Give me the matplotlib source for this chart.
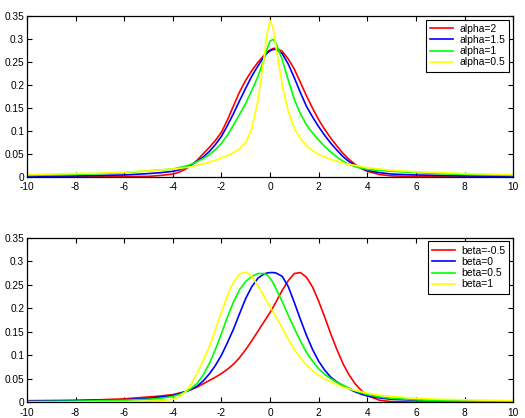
import matplotlib
matplotlib.use("Agg")
import matplotlib.pyplot as plt
from matplotlib.ticker import FormatStrFormatter

plt.rcParams['font.family'] = ['Liberation Sans', 'DejaVu Sans']
plt.rcParams['axes.unicode_minus'] = False

# values
x = [-10, -9, -8, -7, -6, -5, -4.5,
     -4, -3.75, -3.5, -3.25, -3, -2.75, -2.5, -2.25, -2, -1.75, -1.5, -1.25, -1, -0.75, -0.5, -0.25,
     -0.125, 0, 0.125,
     0.25, 0.5, 0.75, 1, 1.25, 1.5, 1.75, 2, 2.25, 2.5, 2.75, 3, 3.25, 3.5, 3.75, 4,
     4.5, 5, 6, 7, 8, 9, 10]

# top panel: varying alpha
alpha_2 = [0, 0, 0, 0, 0.0005, 0.001, 0.003,
           0.006, 0.01, 0.016, 0.025, 0.036, 0.05, 0.064, 0.079, 0.097, 0.124, 0.155, 0.185, 0.21, 0.231, 0.249, 0.264,
           0.271, 0.276, 0.279,
           0.28, 0.273, 0.256, 0.234, 0.205, 0.176, 0.149, 0.124, 0.103, 0.084, 0.067, 0.051, 0.038, 0.027, 0.018, 0.012,
           0.005, 0.002, 0.0005, 0, 0, 0, 0]
alpha_15 = [0.001, 0.0015, 0.002, 0.003, 0.004, 0.007, 0.009,
            0.012, 0.015, 0.02, 0.026, 0.034, 0.043, 0.055, 0.07, 0.088, 0.112, 0.138, 0.166, 0.193, 0.219, 0.241, 0.261,
            0.269, 0.274, 0.277,
            0.277, 0.268, 0.245, 0.215, 0.183, 0.153, 0.13, 0.109, 0.09, 0.073, 0.058, 0.044, 0.033, 0.025, 0.019, 0.014,
            0.009, 0.006, 0.004, 0.003, 0.002, 0.0015, 0.001]
alpha_1 = [0.003, 0.004, 0.005, 0.007, 0.009, 0.013, 0.015,
           0.017, 0.02, 0.023, 0.027, 0.033, 0.04, 0.048, 0.059, 0.073, 0.091, 0.113, 0.136, 0.16, 0.188, 0.218, 0.255,
           0.278, 0.295, 0.299,
           0.29, 0.255, 0.21, 0.168, 0.137, 0.113, 0.095, 0.08, 0.066, 0.054, 0.043, 0.034, 0.027, 0.022, 0.019, 0.016,
           0.014, 0.012, 0.009, 0.007, 0.005, 0.004, 0.003]
alpha_05 = [0.005, 0.006, 0.007, 0.008, 0.01, 0.013, 0.015,
            0.017, 0.018, 0.02, 0.022, 0.025, 0.028, 0.032, 0.036, 0.041, 0.046, 0.052, 0.061, 0.075, 0.105, 0.165, 0.258,
            0.31, 0.34, 0.325,
            0.28, 0.2, 0.142, 0.105, 0.083, 0.068, 0.057, 0.049, 0.043, 0.038, 0.034, 0.03, 0.027, 0.025, 0.022, 0.02,
            0.017, 0.014, 0.011, 0.009, 0.007, 0.006, 0.005]
alpha_labels = ['alpha=2', 'alpha=1.5', 'alpha=1', 'alpha=0.5']

# bottom panel: varying beta
beta_m05 = [0.003, 0.0035, 0.004, 0.005, 0.007, 0.011, 0.013,
            0.016, 0.019, 0.022, 0.027, 0.032, 0.039, 0.046, 0.053, 0.061, 0.07, 0.081, 0.095, 0.112, 0.131, 0.151, 0.171,
            0.181, 0.191, 0.202,
            0.214, 0.238, 0.259, 0.274, 0.276, 0.266, 0.245, 0.215, 0.181, 0.145, 0.112, 0.082, 0.058, 0.039, 0.025, 0.014,
            0.004, 0.001, 0, 0, 0, 0, 0]
beta_0 = [0.002, 0.0025, 0.003, 0.004, 0.005, 0.008, 0.011,
          0.014, 0.018, 0.022, 0.027, 0.034, 0.045, 0.06, 0.078, 0.1, 0.127, 0.156, 0.189, 0.221, 0.246, 0.264, 0.273,
          0.275, 0.276, 0.276,
          0.275, 0.268, 0.246, 0.212, 0.176, 0.142, 0.112, 0.087, 0.068, 0.053, 0.043, 0.035, 0.028, 0.022, 0.017, 0.013,
          0.009, 0.006, 0.004, 0.003, 0.002, 0.0015, 0.001]
beta_05 = [0.001, 0.0015, 0.002, 0.003, 0.004, 0.006, 0.008,
           0.012, 0.016, 0.021, 0.029, 0.04, 0.058, 0.082, 0.112, 0.146, 0.182, 0.214, 0.24, 0.257, 0.268, 0.274, 0.274,
           0.271, 0.264, 0.254,
           0.241, 0.214, 0.185, 0.157, 0.13, 0.106, 0.087, 0.071, 0.059, 0.05, 0.042, 0.036, 0.03, 0.024, 0.02, 0.016,
           0.011, 0.008, 0.005, 0.003, 0.002, 0.0015, 0.001]
beta_1 = [0, 0, 0.0005, 0.0007, 0.001, 0.002, 0.003,
          0.006, 0.011, 0.021, 0.038, 0.061, 0.088, 0.118, 0.155, 0.192, 0.228, 0.256, 0.273, 0.277, 0.268, 0.248, 0.226,
          0.214, 0.203, 0.192,
          0.181, 0.158, 0.134, 0.112, 0.094, 0.079, 0.067, 0.057, 0.049, 0.043, 0.037, 0.032, 0.028, 0.025, 0.022, 0.019,
          0.015, 0.012, 0.008, 0.006, 0.005, 0.004, 0.003]
beta_labels = ['beta=-0.5', 'beta=0', 'beta=0.5', 'beta=1']

colors = ['#ff0000', '#0000ff', '#00ff00', '#ffff00']
xticks = [-10, -8, -6, -4, -2, 0, 2, 4, 6, 8, 10]
yticks = [0, 0.05, 0.1, 0.15, 0.2, 0.25, 0.3, 0.35]

fig = plt.figure(figsize=(5.25, 4.18), dpi=100)
ax1 = fig.add_axes([0.0514, 0.577, 0.926, 0.385])
ax2 = fig.add_axes([0.0514, 0.038, 0.926, 0.393])


def draw(ax, series, labels):
    for ys, lab, c in zip(series, labels, colors):
        ax.plot(x, ys, color=c, lw=1.2, label=lab)
    ax.set_xlim(-10, 10)
    ax.set_ylim(0, 0.35)
    ax.set_xticks(xticks)
    ax.set_yticks(yticks)
    ax.yaxis.set_major_formatter(FormatStrFormatter('%g'))
    ax.xaxis.set_major_formatter(FormatStrFormatter('%g'))
    ax.tick_params(direction='in', top=True, right=True, length=3.5,
                   labelsize=7.3, width=0.8, pad=2)
    ax.tick_params(axis='x', pad=4)
    for s in ax.spines.values():
        s.set_linewidth(0.9)
    leg = ax.legend(loc='upper right', fontsize=7.5, fancybox=False, framealpha=1,
                    edgecolor='black', handlelength=2.2, handletextpad=0.6,
                    labelspacing=0.12, borderpad=0.4, borderaxespad=0.35)
    leg.get_frame().set_linewidth(0.8)


draw(ax1, [alpha_2, alpha_15, alpha_1, alpha_05], alpha_labels)
draw(ax2, [beta_m05, beta_0, beta_05, beta_1], beta_labels)

fig.savefig('out.png', dpi=100)
